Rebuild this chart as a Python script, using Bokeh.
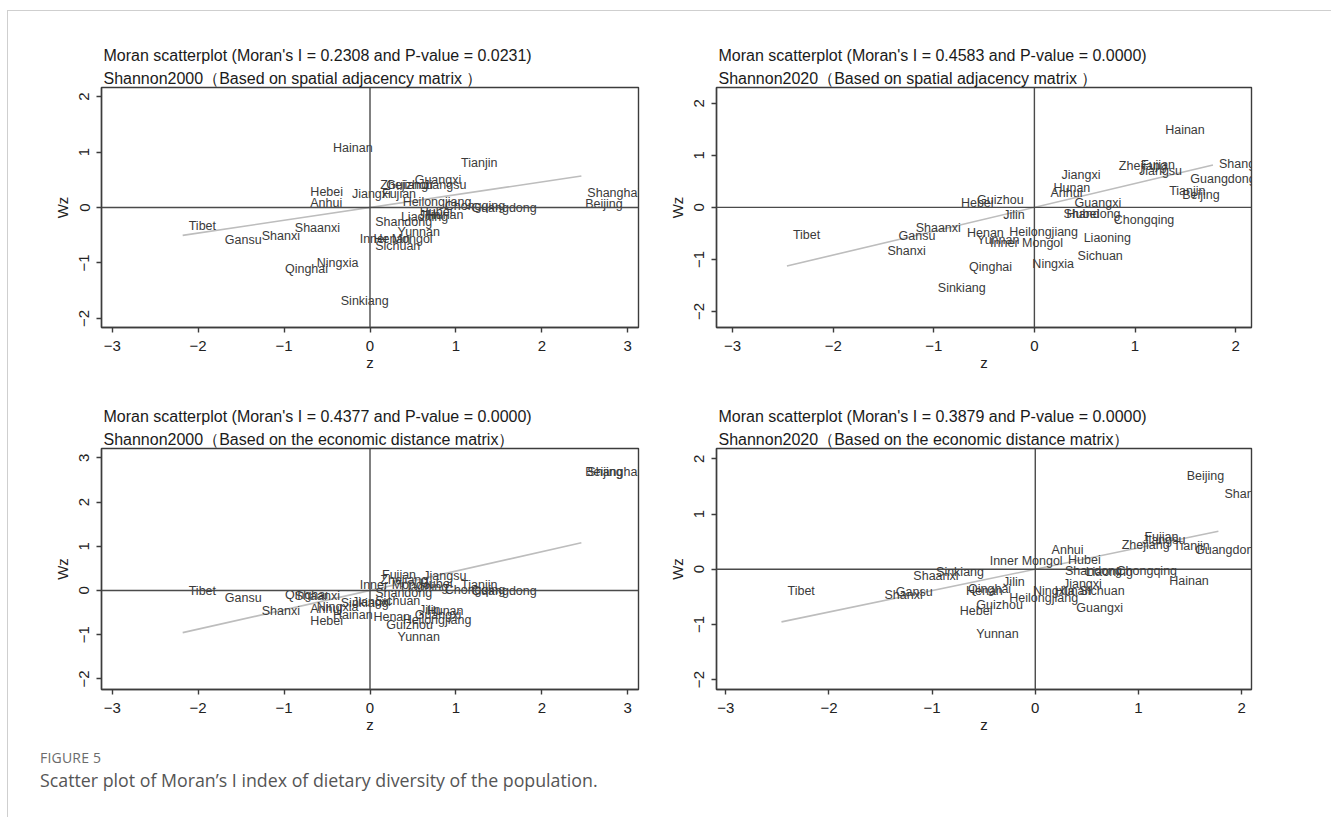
from bokeh.plotting import figure
from bokeh.models import Span, Label, ColumnDataSource, FixedTicker, Title, Range1d, Div
from bokeh.layouts import column, row
from bokeh.embed import file_html
from bokeh.resources import INLINE
from bokeh.core.properties import value

provinces = ["Beijing", "Tianjin", "Hebei", "Shanxi", "Inner Mongol", "Liaoning", "Jilin",
             "Heilongjiang", "Shanghai", "Jiangsu", "Zhejiang", "Anhui", "Fujian", "Jiangxi",
             "Shandong", "Henan", "Hubei", "Hunan", "Guangdong", "Guangxi", "Hainan",
             "Chongqing", "Sichuan", "Guizhou", "Yunnan", "Tibet", "Shaanxi", "Gansu",
             "Qinghai", "Ningxia", "Sinkiang"]

# standardized Shannon index, 2000 and 2020
z2000 = [2.435, 0.99, -0.764, -1.33, -0.19, 0.29, 0.50, 0.31, 2.46, 0.55, 0.05, -0.765, 0.07,
         -0.28, -0.01, -0.03, 0.51, 0.59, 1.11, 0.45, -0.50, 0.80, -0.01, 0.12, 0.25, -2.18,
         -0.945, -1.76, -1.06, -0.69, -0.41]
z2020 = [1.41, 1.28, -0.79, -1.52, -0.50, 0.43, -0.37, -0.31, 1.775, 0.98, 0.78, 0.10, 1.00,
         0.21, 0.23, -0.73, 0.26, 0.13, 1.49, 0.34, 1.24, 0.73, 0.37, -0.63, -0.63, -2.46,
         -1.24, -1.41, -0.71, -0.08, -1.02]

# spatial lags
wz_adj2000 = [0.07, 0.806, 0.283, -0.52, -0.57, -0.18, -0.14, 0.10, 0.265, 0.40, 0.40, 0.09,
              0.25, 0.235, -0.27, -0.56, -0.09, -0.14, 0.0, 0.49, 1.065, 0.02, -0.70, 0.40,
              -0.44, -0.34, -0.37, -0.58, -1.11, -1.0, -1.69]
wz_adj2020 = [0.235, 0.32, 0.08, -0.83, -0.69, -0.58, -0.15, -0.47, 0.83, 0.70, 0.79, 0.27,
              0.81, 0.62, -0.13, -0.50, -0.12, 0.38, 0.545, 0.09, 1.48, -0.24, -0.93, 0.15,
              -0.63, -0.53, -0.39, -0.56, -1.14, -1.09, -1.55]
wz_eco2000 = [2.67, 0.12, -0.69, -0.46, 0.12, 0.08, -0.45, -0.67, 2.67, 0.32, 0.24, -0.41,
              0.35, -0.26, -0.05, -0.61, 0.15, -0.46, -0.02, -0.56, -0.56, 0.0, -0.24, -0.79,
              -1.06, -0.02, -0.13, -0.17, -0.10, -0.37, -0.28]
wz_eco2020 = [1.69, 0.42, -0.75, -0.46, 0.145, -0.05, -0.23, -0.53, 1.36, 0.53, 0.44, 0.34,
              0.59, -0.26, -0.03, -0.39, 0.175, -0.39, 0.34, -0.71, -0.21, -0.03, -0.39, -0.65,
              -1.18, -0.39, -0.13, -0.42, -0.35, -0.39, -0.05]

morans_i = [0.2308, 0.4583, 0.4377, 0.3879]
p_values = ["0.0231", "0.0000", "0.0000", "0.0000"]
variables = ["Shannon2000", "Shannon2020", "Shannon2000", "Shannon2020"]
matrices = ["（Based on spatial adjacency matrix ）", "（Based on spatial adjacency matrix ）",
            "（Based on the economic distance matrix）", "（Based on the economic distance matrix）"]
x_ticks_2000 = [-3, -2, -1, 0, 1, 2, 3]
x_ticks_2020 = [-3, -2, -1, 0, 1, 2]
y_ticks_a = [-2, -1, 0, 1, 2]
y_ticks_b = [-2, -1, 0, 1, 2, 3]

FONT = "Liberation Sans"
DARK = "#3c3c3c"
LABEL_SIZE = "12.5px"


def panel(z, wz, mi, pv, var, mat, xr, yr, xt, yt, w, h, bl, br, bt, bb, clip):
    p = figure(width=w, height=h, output_backend="svg", toolbar_location=None,
               x_range=Range1d(*xr), y_range=Range1d(*yr), title=None,
               min_border_left=bl, min_border_right=br, min_border_top=bt, min_border_bottom=bb)
    p.add_layout(Title(text=var + mat, align="left", offset=2, standoff=1,
                       text_font=FONT, text_font_size="16px", text_font_style="normal",
                       text_color="#1a1a1a"), "above")
    p.add_layout(Title(text="Moran scatterplot (Moran's I = %.4f and P-value = %s)" % (mi, pv),
                       align="left", offset=2, standoff=7,
                       text_font=FONT, text_font_size="16px", text_font_style="normal",
                       text_color="#1a1a1a"), "above")
    p.xgrid.visible = False
    p.ygrid.visible = False
    p.outline_line_color = DARK
    p.outline_line_width = 1.4
    p.background_fill_color = "white"
    p.border_fill_color = "white"
    for ax in (p.xaxis, p.yaxis):
        ax.axis_line_color = DARK
        ax.axis_line_width = 1.4
        ax.major_tick_line_color = DARK
        ax.major_tick_line_width = 1.4
        ax.major_tick_out = 5
        ax.major_tick_in = 0
        ax.minor_tick_line_color = None
        ax.major_label_text_font = FONT
        ax.major_label_text_font_size = "15px"
        ax.major_label_text_color = "#222222"
        ax.axis_label_text_font = FONT
        ax.axis_label_text_font_size = "15px"
        ax.axis_label_text_font_style = "normal"
        ax.axis_label_text_color = "#222222"
    p.xaxis.ticker = FixedTicker(ticks=xt)
    p.yaxis.ticker = FixedTicker(ticks=yt)
    p.xaxis.axis_label = "z"
    p.yaxis.axis_label = "Wz"
    p.xaxis.major_label_standoff = 8
    p.xaxis.axis_label_standoff = 0
    p.yaxis.major_label_standoff = 7
    p.yaxis.axis_label_standoff = 6
    p.yaxis.major_label_orientation = "vertical"

    p.add_layout(Span(location=0, dimension="height", line_color="#4a4a4a", line_width=1.4))
    p.add_layout(Span(location=0, dimension="width", line_color="#4a4a4a", line_width=1.4))

    zmin, zmax = min(z), max(z)
    p.line([zmin, zmax], [mi * zmin, mi * zmax], line_color="#bdbdbd", line_width=1.6)

    if clip:
        src = ColumnDataSource(dict(x=z, y=wz, name=provinces))
        p.text(x="x", y="y", text="name", source=src, x_offset=6, text_align="left",
               text_baseline="middle", text_font=value(FONT), text_font_size=LABEL_SIZE,
               text_color="#3a3a3a")
    else:
        for zi, wi, nm in zip(z, wz, provinces):
            p.add_layout(Label(x=zi, y=wi, text=nm, x_offset=6, text_align="left",
                               text_baseline="middle", text_font=FONT,
                               text_font_size=LABEL_SIZE, text_color="#3a3a3a"))
    return p


p1 = panel(z2000, wz_adj2000, morans_i[0], p_values[0], variables[0], matrices[0],
           (-3.125, 3.125), (-2.165, 2.165), x_ticks_2000, y_ticks_a,
           652, 369, 93, 22, 76, 53, True)
p2 = panel(z2020, wz_adj2020, morans_i[1], p_values[1], variables[1], matrices[1],
           (-3.16, 2.158), (-2.31, 2.305), x_ticks_2020, y_ticks_a,
           661, 369, 56, 70, 76, 52, False)
p3 = panel(z2000, wz_eco2000, morans_i[2], p_values[2], variables[2], matrices[2],
           (-3.125, 3.125), (-2.24, 3.21), x_ticks_2000, y_ticks_b,
           652, 361, 93, 22, 68, 52, True)
p4 = panel(z2020, wz_eco2020, morans_i[3], p_values[3], variables[3], matrices[3],
           (-3.09, 2.096), (-2.18, 2.187), x_ticks_2020, y_ticks_a,
           661, 361, 56, 70, 68, 52, False)

caption = Div(text=(
    "<div style='font-family:\"Open Sans\";padding-left:27px;padding-top:2px'>"
    "<div style='font-size:14px;line-height:19px;color:#6b6b6b;letter-spacing:0.2px'>FIGURE 5</div>"
    "<div style='font-size:17.8px;line-height:24px;color:#555555;margin-top:1px'>"
    "Scatter plot of Moran’s I index of dietary diversity of the population.</div></div>"),
    width=1313, height=66)

layout = column(row(p1, p2), row(p3, p4), caption,
                styles={"border-top": "1px solid #cfcfcf", "border-left": "1px solid #cfcfcf",
                        "border-right": "1px solid #cfcfcf", "margin-left": "7px",
                        "margin-top": "10px"})

open("out.html", "w").write(file_html(layout, INLINE))
